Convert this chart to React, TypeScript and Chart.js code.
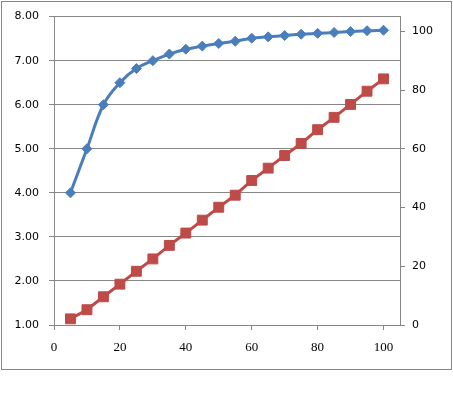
import React, { useEffect, useRef } from "react";
import { Chart, registerables } from "chart.js";

Chart.register(...registerables);

const xValues = [5, 10, 15, 20, 25, 30, 35, 40, 45, 50, 55, 60, 65, 70, 75, 80, 85, 90, 95, 100];
const blueValues = [4.0, 5.0, 6.0, 6.5, 6.82, 7.0, 7.15, 7.26, 7.33, 7.39, 7.44, 7.51, 7.54, 7.57, 7.6, 7.62, 7.64, 7.66, 7.68, 7.69];
const redValues = [2.1, 5.2, 9.6, 13.9, 18.3, 22.5, 27.1, 31.3, 35.7, 40.1, 44.2, 49.2, 53.4, 57.7, 61.8, 66.5, 70.7, 75.1, 79.6, 83.8];

const GRID = "#878787";

const borderPlugin = {
  id: "outerBorder",
  afterDraw(chart: any) {
    const ctx = chart.ctx;
    ctx.save();
    ctx.strokeStyle = GRID;
    ctx.lineWidth = 1;
    ctx.strokeRect(1.5, 1.5, 450, 368);
    ctx.restore();
  },
};

export default function App() {
  const ref = useRef<HTMLCanvasElement>(null);
  useEffect(() => {
    document.body.style.margin = "0";
    const chart = new Chart(ref.current!, {
      type: "line",
      data: {
        datasets: [
          {
            label: "A",
            data: xValues.map((x, i) => ({ x, y: blueValues[i] })),
            yAxisID: "y",
            borderColor: "#4A7EBB",
            backgroundColor: "#4A7EBB",
            borderWidth: 3,
            pointStyle: "rectRot",
            pointRadius: 5,
            pointBorderWidth: 1,
            tension: 0.4,
          },
          {
            label: "B",
            data: xValues.map((x, i) => ({ x, y: redValues[i] })),
            yAxisID: "y1",
            borderColor: "#BE4B48",
            backgroundColor: "#BE4B48",
            borderWidth: 3,
            pointStyle: "rect",
            pointRadius: 7,
            pointBorderWidth: 1,
            tension: 0,
          },
        ],
      },
      options: {
        responsive: false,
        animation: false,
        devicePixelRatio: 1,
        layout: { padding: { left: 2, right: 1, top: 16, bottom: 24 } },
        plugins: { legend: { display: false }, tooltip: { enabled: false } },
        scales: {
          x: {
            type: "linear",
            min: 0,
            max: 105,
            ticks: {
              stepSize: 20,
              includeBounds: false,
              color: "#000",
              font: { family: "Liberation Serif", size: 13 },
              padding: 10,
              maxRotation: 0,
            },
            grid: { drawOnChartArea: false, drawTicks: true, tickLength: 5, color: GRID },
            border: { color: GRID },
            afterFit: (s: any) => { s.height = 44; },
          },
          y: {
            position: "left",
            min: 1,
            max: 8,
            ticks: {
              stepSize: 1,
              color: "#000",
              font: { family: "DejaVu Sans", size: 11 },
              padding: 10,
              callback: (v: any) => Number(v).toFixed(2),
            },
            grid: { color: GRID, tickLength: 5 },
            border: { color: GRID },
            afterFit: (s: any) => { s.width = 52; },
          },
          y1: {
            position: "right",
            min: 0,
            max: 105,
            ticks: {
              stepSize: 20,
              includeBounds: false,
              color: "#000",
              font: { family: "DejaVu Sans", size: 11 },
              padding: 7,
            },
            grid: { drawOnChartArea: false, color: GRID, tickLength: 5 },
            border: { color: GRID },
            afterFit: (s: any) => { s.width = 52; },
          },
        },
      },
      plugins: [borderPlugin],
    });
    return () => chart.destroy();
  }, []);
  return <canvas ref={ref} width={453} height={393} />;
}
